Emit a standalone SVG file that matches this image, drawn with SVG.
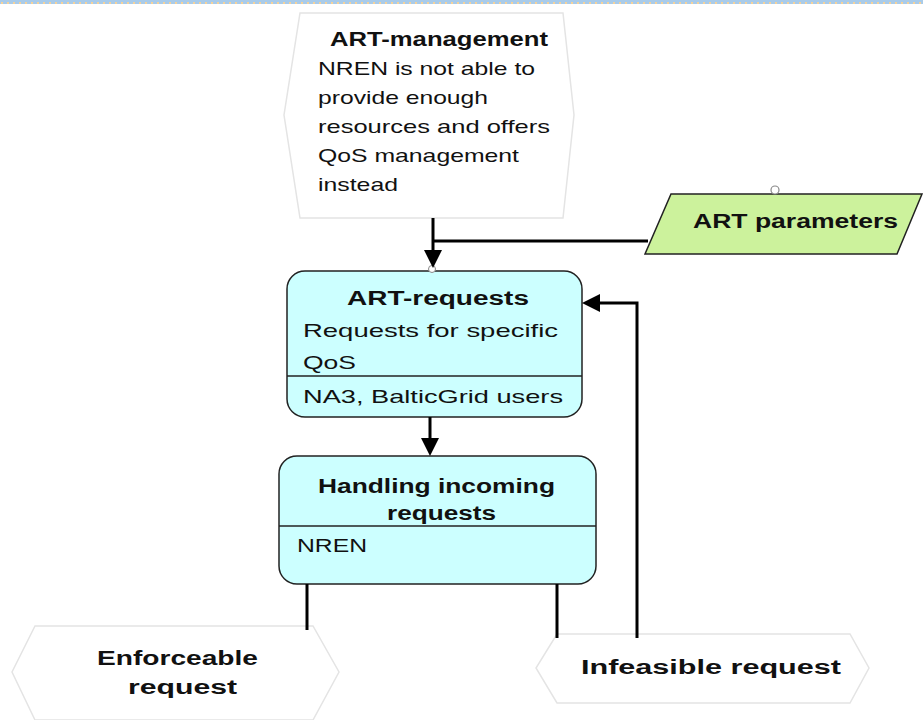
<svg xmlns="http://www.w3.org/2000/svg" width="923" height="720" viewBox="0 0 923 720">
<style>
.hex{fill:#ffffff;stroke:#e4e4e4;stroke-width:1.5}
.box{fill:#ccffff;stroke:#222;stroke-width:1.5}
.b{font-family:"Liberation Sans",Arial,sans-serif;font-weight:bold;font-size:20px;fill:#111}
.r{font-family:"Liberation Sans",Arial,sans-serif;font-size:19px;fill:#111}
.c{fill:none;stroke:#000;stroke-width:3}
</style>
<defs>
<pattern id="dots" width="6" height="4" patternUnits="userSpaceOnUse">
<rect width="6" height="4" fill="#a9cbe9"/>
<rect x="1" y="2" width="2" height="2" fill="#f5d29a"/>
</pattern>
</defs>
<rect width="923" height="720" fill="#fff"/>
<rect x="0" y="0" width="923" height="4" fill="url(#dots)"/>

<g id="art-management">
<polygon class="hex" points="300,13 563,13 574,115 563,218 300,218 284,115"/>
<text class="b" x="330" y="46" textLength="218" lengthAdjust="spacingAndGlyphs">ART-management</text>
<text class="r" x="318" y="75" textLength="217" lengthAdjust="spacingAndGlyphs">NREN is not able to</text>
<text class="r" x="318" y="104" textLength="170" lengthAdjust="spacingAndGlyphs">provide enough</text>
<text class="r" x="318" y="133" textLength="232" lengthAdjust="spacingAndGlyphs">resources and offers</text>
<text class="r" x="318" y="162" textLength="201" lengthAdjust="spacingAndGlyphs">QoS management</text>
<text class="r" x="318" y="191" textLength="80" lengthAdjust="spacingAndGlyphs">instead</text>
</g>

<g id="art-parameters">
<polygon points="671,194 922,194 897,254 645,254" fill="#ccf29c" stroke="#222" stroke-width="1.5"/>
<circle cx="775" cy="190" r="4" fill="#fff" stroke="#888" stroke-width="1.2"/>
<text class="b" x="693" y="228" textLength="205" lengthAdjust="spacingAndGlyphs">ART parameters</text>
</g>

<g id="art-requests">
<rect class="box" x="287" y="271" width="295" height="146" rx="18" ry="18"/>
<line x1="287" y1="376" x2="582" y2="376" stroke="#222" stroke-width="1.5"/>
<circle cx="432" cy="269" r="3.5" fill="#fff" stroke="#888" stroke-width="1"/>
<text class="b" x="347" y="305" textLength="182" lengthAdjust="spacingAndGlyphs">ART-requests</text>
<text class="r" x="303" y="337" textLength="255" lengthAdjust="spacingAndGlyphs">Requests for specific</text>
<text class="r" x="303" y="369" textLength="53" lengthAdjust="spacingAndGlyphs">QoS</text>
<text class="r" x="303" y="403" textLength="260" lengthAdjust="spacingAndGlyphs">NA3, BalticGrid users</text>
</g>

<g id="handling">
<rect class="box" x="279" y="456" width="317" height="128" rx="18" ry="18"/>
<line x1="279" y1="526" x2="596" y2="526" stroke="#222" stroke-width="1.5"/>
<text class="b" x="318" y="493" textLength="237" lengthAdjust="spacingAndGlyphs">Handling incoming</text>
<text class="b" x="387" y="520" textLength="109" lengthAdjust="spacingAndGlyphs">requests</text>
<text class="r" x="297" y="552" textLength="70" lengthAdjust="spacingAndGlyphs">NREN</text>
</g>

<g id="enforceable">
<polygon class="hex" points="35,626 313,626 339,672 313,720 35,720 12,672"/>
<text class="b" x="97" y="665" textLength="161" lengthAdjust="spacingAndGlyphs">Enforceable</text>
<text class="b" x="128" y="694" textLength="109" lengthAdjust="spacingAndGlyphs">request</text>
</g>

<g id="infeasible">
<polygon class="hex" points="557,634 850,634 869,668 850,703 557,703 536,668"/>
<text class="b" x="581" y="674" textLength="260" lengthAdjust="spacingAndGlyphs">Infeasible request</text>
</g>

<g id="connectors">
<path class="c" d="M433,218 V256"/>
<polygon points="424,250 442,250 433,268" fill="#000"/>
<path class="c" d="M648,241 H433"/>
<path class="c" d="M430,417 V442"/>
<polygon points="421,438 439,438 430,456" fill="#000"/>
<path class="c" d="M307,584 V630"/>
<path class="c" d="M557,584 V638"/>
<path class="c" d="M637,638 V303 H595"/>
<polygon points="600,294 600,312 582,303" fill="#000"/>
</g>
</svg>
